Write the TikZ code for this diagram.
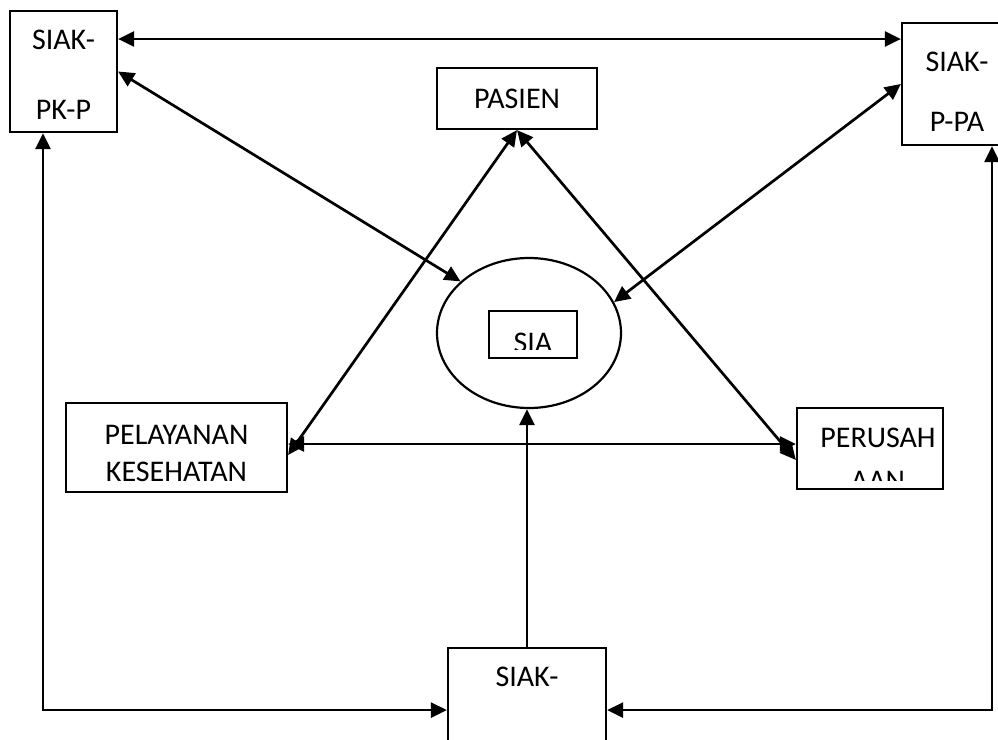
\documentclass[tikz,border=0pt]{standalone}
\usepackage{fontspec}
\setmainfont{Carlito}
\usetikzlibrary{arrows.meta,positioning,shapes.geometric}
\newcommand{\tstrut}[1]{\rule{0pt}{#1}}
\tikzset{
  box/.style={draw, line width=1.1pt, inner sep=0pt, align=center, font=\fontsize{15}{18}\selectfont},
  lbl/.style={inner sep=0pt, align=center, font=\fontsize{15}{18}\selectfont},
  arr/.style={-{Triangle[length=8pt,width=7.5pt]}, line width=1.35pt},
  dblarr/.style={{Triangle[length=8pt,width=7.5pt]}-{Triangle[length=8pt,width=7.5pt]}, line width=1.35pt}
}

\begin{document}
\begin{tikzpicture}[x=0.5pt,y=-0.5pt]
    \clip (0,0) rectangle (998,740);
    \node[box,minimum width=53.5pt,minimum height=60.5pt,font=\fontsize{15}{35}\selectfont] (pkp) at (63.5,71.5) {\tstrut{13.2pt}SIAK-\\PK-P};
    \node[box,minimum width=55pt,minimum height=61pt,font=\fontsize{15}{30}\selectfont] (ppa) at (957,84) {\tstrut{17.7pt}SIAK-\\P-PA};
    \node[box,minimum width=80pt,minimum height=30.5pt] (pasien) at (517,98.5) {PASIEN};
    \node[draw,ellipse,line width=1.1pt,minimum width=92pt,minimum height=75pt,inner sep=0pt] (sia) at (529,333) {};
    \node[box,minimum width=44pt,minimum height=23.5pt] (siabox) at (533,334.5) {};
    \begin{scope}
      \clip (siabox.north west) rectangle ([yshift=5pt]siabox.south east);
      \node[lbl] (sialbl) at (533,342.5) {SIA};
    \end{scope}
    \node[box,minimum width=110.5pt,minimum height=44.5pt,font=\fontsize{15}{18.5}\selectfont] (pelayanan) at (176.5,447.5) {\tstrut{15.7pt}PELAYANAN\\KESEHATAN};
    \node[box,minimum width=73pt,minimum height=40.5pt] (perusahaan) at (870,448.5) {};
    \begin{scope}
      \clip (perusahaan.north west) rectangle ([yshift=5pt]perusahaan.south east);
      \node[lbl,font=\fontsize{15}{21.5}\selectfont] (perusahaanlbl) at (878,459.5) {PERUSAH\\AAN};
    \end{scope}
    \node[box,anchor=north,minimum width=79pt,minimum height=62pt] (siak) at (527,647) {};
    \node[lbl] (siaklbl) at (527,677) {SIAK-};

    \draw[dblarr] ([yshift=16.25pt]pkp.east) -- ([yshift=16.25pt]pkp.east -| ppa.west);
    \draw[dblarr] (pkp.east) -- (sia.143);
    \draw[dblarr] (ppa.west) -- (sia.20);
    \draw[dblarr] (pasien.south) -- ([yshift=-3.75pt]pelayanan.east);
    \draw[dblarr] (pasien.south) -- ([yshift=-5.75pt]perusahaan.west);
    \draw[dblarr] ([yshift=1.75pt]pelayanan.east) -- ([yshift=1.75pt]pelayanan.east -| perusahaan.west);
    \draw[arr] (siak.north) -- (siak.north |- sia.south);
    \draw[dblarr] ([xshift=-10.25pt]pkp.south) |- (siak.west);
    \draw[dblarr] ([xshift=17.5pt]ppa.south) |- (siak.east);
\end{tikzpicture}
\end{document}
